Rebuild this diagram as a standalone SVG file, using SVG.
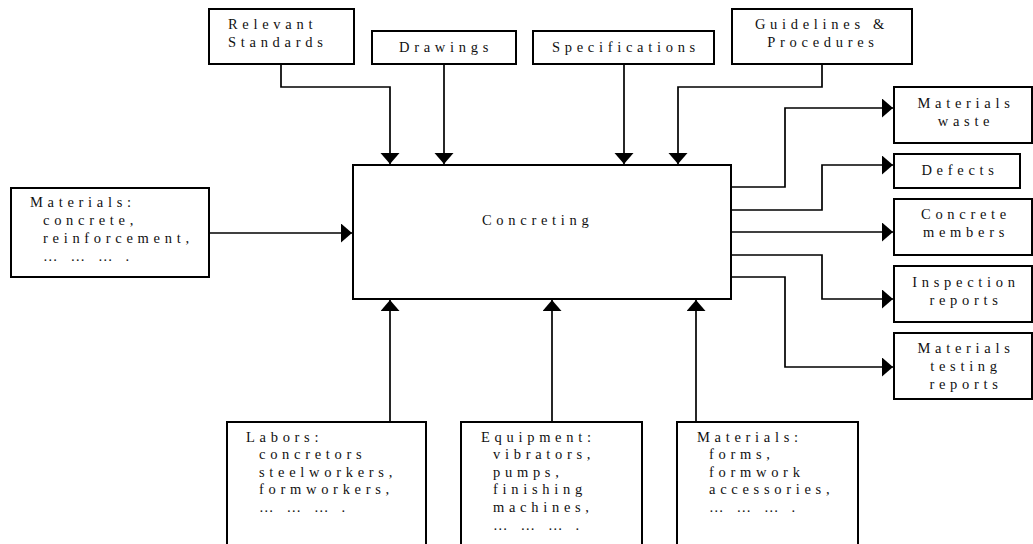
<svg xmlns="http://www.w3.org/2000/svg" width="1033" height="544" viewBox="0 0 1033 544">
<style>
.box{fill:#fff;stroke:#000;stroke-width:2}
.ln{fill:none;stroke:#000;stroke-width:1.7}
text{font-family:'Liberation Serif','DejaVu Serif',serif;font-size:14.5px;letter-spacing:4.7px;fill:#111}
.c{text-anchor:middle}
</style>
<defs>
<marker id="ah" markerUnits="userSpaceOnUse" markerWidth="12" markerHeight="20" refX="11" refY="9.5" orient="auto" viewBox="0 0 12 20">
<path d="M0,0 L11,9.5 L0,19 z" fill="#000"/>
</marker>
</defs>
<g id="connectors">
<polyline class="ln" points="281,64 281,87 390,87 390,164" marker-end="url(#ah)"/>
<polyline class="ln" points="444,64 444,164" marker-end="url(#ah)"/>
<polyline class="ln" points="624,64 624,164" marker-end="url(#ah)"/>
<polyline class="ln" points="822,64 822,87 678,87 678,164" marker-end="url(#ah)"/>
<polyline class="ln" points="209,233 352,233" marker-end="url(#ah)"/>
<polyline class="ln" points="731,187 785,187 785,108 893,108" marker-end="url(#ah)"/>
<polyline class="ln" points="731,210 822,210 822,165 893,165" marker-end="url(#ah)"/>
<polyline class="ln" points="731,232 893,232" marker-end="url(#ah)"/>
<polyline class="ln" points="731,255 822,255 822,299 893,299" marker-end="url(#ah)"/>
<polyline class="ln" points="731,277 785,277 785,367 893,367" marker-end="url(#ah)"/>
<polyline class="ln" points="390,422 390,300" marker-end="url(#ah)"/>
<polyline class="ln" points="552,422 552,300" marker-end="url(#ah)"/>
<polyline class="ln" points="696,422 696,300" marker-end="url(#ah)"/>
</g>
<g id="concreting">
<rect class="box" x="353" y="165" width="378" height="134"/>
<text x="482" y="225">Concreting</text>
</g>
<g id="relevant-standards">
<rect class="box" x="209" y="9" width="145" height="55"/>
<text x="228" y="29">Relevant</text>
<text x="228" y="47">Standards</text>
</g>
<g id="drawings">
<rect class="box" x="372" y="31" width="144" height="33"/>
<text class="c" x="446" y="52">Drawings</text>
</g>
<g id="specifications">
<rect class="box" x="533" y="31" width="181" height="33"/>
<text class="c" x="626" y="52">Specifications</text>
</g>
<g id="guidelines">
<rect class="box" x="732" y="9" width="180" height="55"/>
<text class="c" x="822" y="29">Guidelines &amp;</text>
<text class="c" x="823" y="47">Procedures</text>
</g>
<g id="materials-input">
<rect class="box" x="11" y="188" width="198" height="89"/>
<text x="30" y="207">Materials:</text>
<text x="43" y="225">concrete,</text>
<text x="43" y="243">reinforcement,</text>
<text x="43" y="261">… … … .</text>
</g>
<g id="materials-waste">
<rect class="box" x="894" y="87" width="138" height="56"/>
<text class="c" x="966" y="108">Materials</text>
<text class="c" x="966" y="126">waste</text>
</g>
<g id="defects">
<rect class="box" x="894" y="154" width="126" height="34"/>
<text class="c" x="960" y="175">Defects</text>
</g>
<g id="concrete-members">
<rect class="box" x="894" y="199" width="138" height="56"/>
<text class="c" x="966" y="219">Concrete</text>
<text class="c" x="966" y="237">members</text>
</g>
<g id="inspection-reports">
<rect class="box" x="894" y="266" width="138" height="56"/>
<text class="c" x="966" y="287">Inspection</text>
<text class="c" x="966" y="305">reports</text>
</g>
<g id="materials-testing">
<rect class="box" x="894" y="333" width="138" height="66"/>
<text class="c" x="966" y="353">Materials</text>
<text class="c" x="966" y="371">testing</text>
<text class="c" x="966" y="389">reports</text>
</g>
<g id="labors">
<rect class="box" x="227" y="422" width="199" height="130"/>
<text x="246" y="442">Labors:</text>
<text x="259" y="459">concretors</text>
<text x="259" y="477">steelworkers,</text>
<text x="259" y="494">formworkers,</text>
<text x="259" y="512">… … … .</text>
</g>
<g id="equipment">
<rect class="box" x="461" y="422" width="181" height="130"/>
<text x="481" y="442">Equipment:</text>
<text x="493" y="459">vibrators,</text>
<text x="493" y="477">pumps,</text>
<text x="493" y="494">finishing</text>
<text x="493" y="512">machines,</text>
<text x="493" y="530">… … … .</text>
</g>
<g id="materials-formwork">
<rect class="box" x="677" y="422" width="181" height="130"/>
<text x="697" y="442">Materials:</text>
<text x="709" y="459">forms,</text>
<text x="709" y="477">formwork</text>
<text x="709" y="494">accessories,</text>
<text x="709" y="512">… … … .</text>
</g>
</svg>
